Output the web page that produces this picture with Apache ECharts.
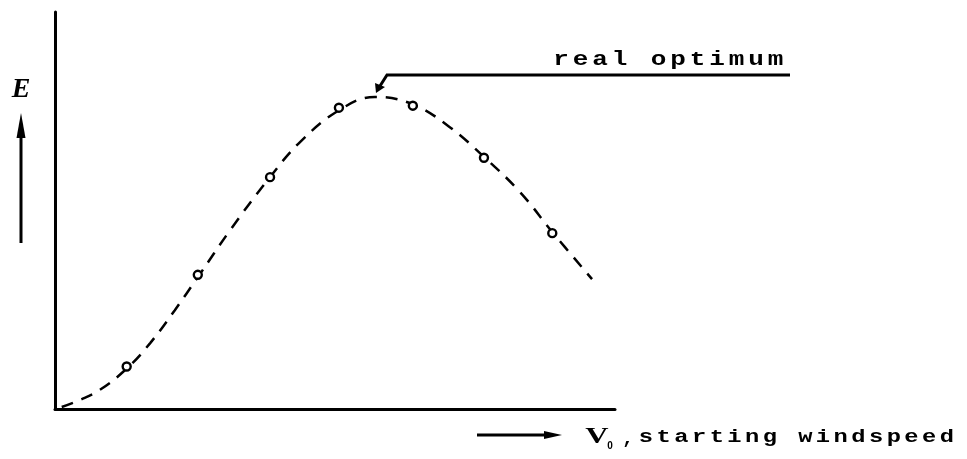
<!DOCTYPE html>
<html>
<head>
<meta charset="utf-8">
<script src="https://cdn.jsdelivr.net/npm/echarts@6/dist/echarts.min.js"></script>
<style>
  html, body { margin: 0; padding: 0; background: #fff; }
  #chart { width: 967px; height: 459px; }
</style>
</head>
<body>
<div id="chart"></div>
<script>
// Efficiency E against starting windspeed V0 (arbitrary units, 0..10 on both axes)
var curveX = [0.12, 0.45, 0.80, 1.29, 1.70, 2.14, 2.55, 3.13, 3.80, 4.38, 5.09, 5.71, 6.38, 7.05, 7.66, 8.30, 8.88, 9.59];
var curveY = [0.05, 0.23, 0.48, 1.03, 1.66, 2.49, 3.32, 4.51, 5.77, 6.73, 7.54, 7.86, 7.68, 7.10, 6.35, 5.47, 4.46, 3.27];

// measured points
var pointX = [1.28, 2.55, 3.84, 5.07, 6.39, 7.66, 8.88];
var pointY = [1.07, 3.38, 5.84, 7.59, 7.64, 6.33, 4.43];

// annotation / axis texts
var optimumLabel = 'real optimum';
var xAxisName = 'starting windspeed';
var yAxisName = 'E';

function zip(a, b) { return a.map(function (v, i) { return [v, b[i]]; }); }

var MONO = 'Liberation Mono';

// typewriter-style text: one glyph per fixed-pitch cell
function typed(str, firstCenter, y, pitch, size, sx) {
  return {
    type: 'group',
    children: str.split('').map(function (ch, i) {
      return {
        type: 'text',
        x: firstCenter + i * pitch,
        y: y,
        scaleX: sx || 1,
        style: {
          text: ch, fontFamily: MONO, fontSize: size, fontWeight: 'bold',
          fill: '#000', align: 'center', verticalAlign: 'middle'
        }
      };
    })
  };
}

var chart = echarts.init(document.getElementById('chart'));

chart.setOption({
  animation: false,
  backgroundColor: '#fff',
  grid: { left: 55, right: 352, top: 12, bottom: 50 },
  xAxis: {
    type: 'value', min: 0, max: 10,
    axisLine: { show: true, onZero: false, lineStyle: { color: '#000', width: 3 } },
    axisTick: { show: false }, axisLabel: { show: false }, splitLine: { show: false }
  },
  yAxis: {
    type: 'value', min: 0, max: 10,
    axisLine: { show: true, onZero: false, lineStyle: { color: '#000', width: 3 } },
    axisTick: { show: false }, axisLabel: { show: false }, splitLine: { show: false }
  },
  series: [
    {
      type: 'line',
      data: zip(curveX, curveY),
      smooth: 0.4,
      showSymbol: false,
      lineStyle: { color: '#000', width: 2.5, type: [12, 9] },
      z: 2
    },
    {
      type: 'scatter',
      data: zip(pointX, pointY),
      symbol: 'circle',
      symbolSize: 8,
      itemStyle: { color: '#fff', borderColor: '#000', borderWidth: 2.4, opacity: 1 },
      z: 3
    }
  ],
  graphic: [
    // leader line to the optimum
    { type: 'polyline', shape: { points: [[790, 75], [387, 75], [380, 86]] },
      style: { stroke: '#000', lineWidth: 3, fill: null } },
    { type: 'polygon', shape: { points: [[376, 93], [375, 83], [385, 87]] },
      style: { fill: '#000' } },
    typed(optimumLabel, 561, 60, 19.5, 20, 1.3),

    // E label with upward arrow
    { type: 'text', x: 21, y: 90,
      style: { text: yAxisName, fontFamily: 'Liberation Serif', fontStyle: 'italic', fontWeight: 'bold',
               fontSize: 28, fill: '#000', align: 'center', verticalAlign: 'middle' } },
    { type: 'line', shape: { x1: 21, y1: 243, x2: 21, y2: 130 },
      style: { stroke: '#000', lineWidth: 3 } },
    { type: 'polygon', shape: { points: [[21, 113], [16.5, 138], [25.5, 138]] },
      style: { fill: '#000' } },

    // x label with right arrow
    { type: 'line', shape: { x1: 477, y1: 435, x2: 548, y2: 435 },
      style: { stroke: '#000', lineWidth: 3 } },
    { type: 'polygon', shape: { points: [[562, 435], [544, 431], [544, 439]] },
      style: { fill: '#000' } },
    { type: 'text', x: 597, y: 437, scaleX: 1.4,
      style: { text: 'V', fontFamily: 'Liberation Serif', fontWeight: 'bold', fontSize: 23,
               fill: '#000', align: 'center', verticalAlign: 'middle' } },
    { type: 'text', x: 610, y: 446,
      style: { text: '0', fontFamily: 'Liberation Sans', fontWeight: 'bold', fontSize: 10,
               fill: '#000', align: 'center', verticalAlign: 'middle' } },
    { type: 'text', x: 628, y: 439,
      style: { text: ',', fontFamily: MONO, fontWeight: 'bold', fontSize: 19,
               fill: '#000', align: 'center', verticalAlign: 'middle' } },
    typed(xAxisName, 646, 437, 17.7, 19, 1.25)
  ]
});
</script>
</body>
</html>
